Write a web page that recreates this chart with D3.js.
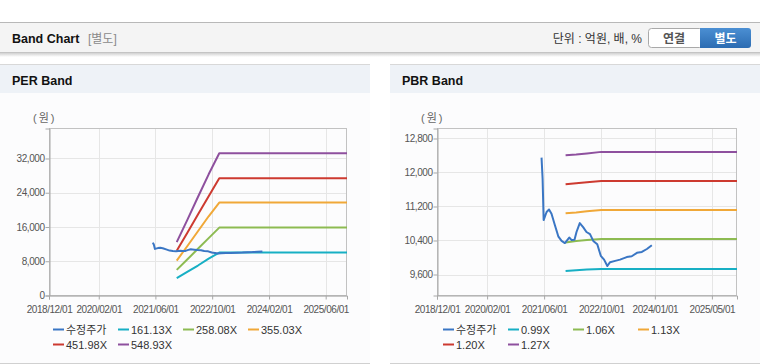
<!DOCTYPE html>
<html>
<head>
<meta charset="UTF-8">
<title>Band Chart</title>
<script src="https://d3js.org/d3.v7.min.js"></script>
<style type="text/css">
    body { margin: 0; background: #fff; }
    svg { display: block; font-family: "Liberation Sans", "Noto Sans CJK KR", sans-serif; }
</style>
</head>
<body>
<svg id="bands"></svg>
<script>
    // shared price series (수정주가)
    const priceDates = ["2021/05/10","2021/05/19","2021/05/28","2021/06/22","2021/07/13","2021/08/03",
        "2021/09/01","2021/10/01","2021/10/28","2021/11/25","2021/12/15","2022/01/01","2022/01/22",
        "2022/02/15","2022/03/04","2022/04/01","2022/05/01","2022/05/28","2022/06/27","2022/07/25",
        "2022/08/28","2022/09/27","2022/10/25","2022/11/22","2022/12/15","2023/01/28","2023/03/10",
        "2023/05/06","2023/06/18","2023/08/01","2023/09/12","2023/10/25","2023/12/06"];
    const priceValues = [12350,11860,10880,11070,11130,11030,10760,10490,10390,10340,10410,10470,10410,
        10420,10600,10810,10710,10600,10550,10390,10310,10040,9950,9800,9890,9920,9950,
        10010,10030,10110,10130,10200,10290];

    // PER band
    const perDates = ["2021/12/01","2022/03/01","2022/06/01","2022/09/01","2022/12/01","2025/12/01"];
    const per161 = [4060, 5500, 7000, 8600, 10030, 10030];
    const per258 = [5990, 8400, 10900, 13400, 15860, 15860];
    const per355 = [8160, 11500, 15000, 18500, 21690, 21690];
    const per452 = [10430, 14600, 18900, 23200, 27380, 27380];
    const per549 = [12460, 17600, 23000, 28300, 33210, 33210];
    const perLabels = ["수정주가", "161.13X", "258.08X", "355.03X", "451.98X", "548.93X"];
    const perYTicks = [0, 8000, 16000, 24000, 32000];
    const perXTicks = ["2018/12/01","2020/02/01","2021/06/01","2022/10/01","2024/02/01","2025/06/01"];

    // PBR band
    const pbrDates = ["2021/12/01","2022/03/01","2022/06/01","2022/10/01","2025/12/01"];
    const pbr099 = [9680, 9700, 9715, 9727, 9727];
    const pbr106 = [10355, 10390, 10410, 10435, 10435];
    const pbr113 = [11042, 11060, 11090, 11120, 11120];
    const pbr120 = [11725, 11748, 11772, 11802, 11802];
    const pbr127 = [12407, 12423, 12447, 12485, 12485];
    const pbrLabels = ["수정주가", "0.99X", "1.06X", "1.13X", "1.20X", "1.27X"];
    const pbrYTicks = [9600, 10400, 11200, 12000, 12800];
    const pbrXTicks = ["2018/12/01","2020/02/01","2021/06/01","2022/10/01","2024/01/01","2025/05/01"];

    const colors = ["#3a76c4", "#17afc4", "#8dbb52", "#f0a838", "#cd3a30", "#8e509e"];
    const parse = d3.timeParse("%Y/%m/%d");
    const xDomain = [parse("2018/12/01"), parse("2025/12/01")];

    const W = 760, H = 364;
    const svg = d3.select("#bands").attr("width", W).attr("height", H);

    // top header strip
    svg.append("rect").attr("x", 0).attr("y", 22).attr("width", W).attr("height", 31).attr("fill", "#f4f4f4");
    svg.append("line").attr("x1", 0).attr("x2", W).attr("y1", 22.5).attr("y2", 22.5).attr("stroke", "#b8b8b8");
    const shade = svg.append("defs").append("linearGradient").attr("id", "shade").attr("x1", 0).attr("x2", 0).attr("y1", 0).attr("y2", 1);
    shade.append("stop").attr("offset", 0).attr("stop-color", "#000").attr("stop-opacity", 0.18);
    shade.append("stop").attr("offset", 1).attr("stop-color", "#000").attr("stop-opacity", 0);
    svg.append("rect").attr("x", 0).attr("y", 53).attr("width", W).attr("height", 4).attr("fill", "url(#shade)");
    svg.append("line").attr("x1", 0).attr("x2", W).attr("y1", 52.5).attr("y2", 52.5).attr("stroke", "#c4c4c4");

    svg.append("text").attr("x", 12).attr("y", 43).attr("font-size", 12.5).attr("font-weight", "bold")
        .attr("fill", "#111").text("Band Chart");
    svg.append("text").attr("x", 88).attr("y", 43).attr("font-size", 12).attr("fill", "#8a8a8a").text("[별도]");
    svg.append("text").attr("x", 642).attr("y", 43).attr("font-size", 12).attr("fill", "#333")
        .attr("text-anchor", "end").text("단위 : 억원, 배, %");

    // toggle buttons
    const btnGrad = svg.select("defs").append("linearGradient").attr("id", "btnBlue")
        .attr("x1", 0).attr("x2", 0).attr("y1", 0).attr("y2", 1);
    btnGrad.append("stop").attr("offset", 0).attr("stop-color", "#4b8fd3");
    btnGrad.append("stop").attr("offset", 1).attr("stop-color", "#2c6cb2");
    svg.append("rect").attr("x", 648.5).attr("y", 28.5).attr("width", 54).attr("height", 19).attr("rx", 3)
        .attr("fill", "#fff").attr("stroke", "#a9a9a9");
    svg.append("rect").attr("x", 700).attr("y", 28).attr("width", 51).attr("height", 20).attr("rx", 3)
        .attr("fill", "url(#btnBlue)");
    svg.append("rect").attr("x", 700).attr("y", 28).attr("width", 4).attr("height", 20).attr("fill", "url(#btnBlue)");
    svg.append("text").attr("x", 674).attr("y", 42.5).attr("text-anchor", "middle").attr("font-size", 12)
        .attr("font-weight", "bold").attr("fill", "#555").text("연결");
    svg.append("text").attr("x", 725.5).attr("y", 42.5).attr("text-anchor", "middle").attr("font-size", 12)
        .attr("font-weight", "bold").attr("fill", "#fff").text("별도");

    function drawPanel(opts) {
        const g = svg.append("g");
        const px = opts.panelX, pw = opts.panelW;
        g.append("rect").attr("x", px).attr("y", 64).attr("width", pw).attr("height", 300).attr("fill", "#fcfcfd");
        g.append("rect").attr("x", px).attr("y", 64).attr("width", pw).attr("height", 29).attr("fill", "#eef2f7");
        g.append("line").attr("x1", px).attr("x2", px + pw).attr("y1", 64.5).attr("y2", 64.5).attr("stroke", "#d8d8d8");
        g.append("line").attr("x1", px).attr("x2", px + pw).attr("y1", 363.5).attr("y2", 363.5).attr("stroke", "#d0d0d0");
        g.append("text").attr("x", px + 12).attr("y", 85).attr("font-size", 12.5).attr("font-weight", "bold")
            .attr("fill", "#111").text(opts.title);
        g.append("text").attr("x", opts.left - 16).attr("y", 122).attr("font-size", 11).attr("fill", "#666")
            .attr("letter-spacing", "2px").text("(원)");

        const x = d3.scaleTime().domain(xDomain).range([opts.left, opts.right]);
        const y = d3.scaleLinear().domain(opts.yDomain).range([295.5, 128.5]);

        // grid
        const xt = opts.xTicks.map(parse);
        g.append("g").selectAll("line").data(xt).join("line")
            .attr("x1", d => Math.round(x(d)) + 0.5).attr("x2", d => Math.round(x(d)) + 0.5)
            .attr("y1", 128.5).attr("y2", 295.5).attr("stroke", "#e6e6e6");
        g.append("g").selectAll("line").data(opts.yTicks).join("line")
            .attr("x1", opts.left).attr("x2", opts.right)
            .attr("y1", d => Math.round(y(d)) + 0.5).attr("y2", d => Math.round(y(d)) + 0.5).attr("stroke", "#e6e6e6");
        g.append("rect").attr("x", opts.left + 0.5).attr("y", 128.5)
            .attr("width", opts.right - opts.left - 1).attr("height", 167)
            .attr("fill", "none").attr("stroke", "#c2c2c2");

        // axes
        const xAxis = g.append("g").attr("transform", "translate(0,295.5)")
            .call(d3.axisBottom(x).tickValues(xt).tickSize(4).tickFormat(d3.timeFormat("%Y/%m/%d")));
        const yAxis = g.append("g").attr("transform", `translate(${opts.left + 0.5},0)`)
            .call(d3.axisLeft(y).tickValues(opts.yTicks).tickSize(4).tickFormat(d3.format(",")));
        [xAxis, yAxis].forEach(a => {
            a.select(".domain").attr("stroke", "#a8a8a8");
            a.selectAll(".tick line").attr("stroke", "#a8a8a8");
            a.selectAll("text").attr("fill", "#555").attr("font-size", 10)
                .attr("font-family", "\"Liberation Sans\", sans-serif").attr("letter-spacing", "-0.45px");
        });
        xAxis.selectAll("text").attr("dy", "1.05em");
        yAxis.selectAll("text").attr("x", -5);

        // series
        const line = d3.line().x(d => x(d[0])).y(d => y(d[1]));
        const series = [d3.zip(priceDates.map(parse), priceValues)]
            .concat(opts.bands.map(b => d3.zip(opts.bandDates.map(parse), b)));
        const order = [1, 2, 3, 4, 5, 0];
        order.forEach(i => {
            g.append("path").datum(series[i]).attr("d", line)
                .attr("fill", "none").attr("stroke", colors[i]).attr("stroke-width", 2)
                .attr("stroke-linejoin", "round");
        });

        // legend
        const leg = g.append("g").selectAll("g").data(opts.labels).join("g")
            .attr("transform", (d, i) => `translate(${opts.legendX + (i % 4) * 65},${329 + Math.floor(i / 4) * 15})`);
        leg.append("line").attr("x1", 0).attr("x2", 11).attr("y1", 0.5).attr("y2", 0.5)
            .attr("stroke", (d, i) => colors[i]).attr("stroke-width", 2);
        leg.append("text").attr("x", 13).attr("y", 4.5).attr("font-size", 11).attr("fill", "#333").text(d => d);
    }

    drawPanel({
        panelX: 0, panelW: 370, title: "PER Band", left: 49, right: 347,
        yDomain: [0, 39000], yTicks: perYTicks, xTicks: perXTicks,
        bandDates: perDates, bands: [per161, per258, per355, per452, per549],
        labels: perLabels, legendX: 53
    });
    drawPanel({
        panelX: 390, panelW: 370, title: "PBR Band", left: 437, right: 737,
        yDomain: [9106, 13035], yTicks: pbrYTicks, xTicks: pbrXTicks,
        bandDates: pbrDates, bands: [pbr099, pbr106, pbr113, pbr120, pbr127],
        labels: pbrLabels, legendX: 443
    });
</script>
</body>
</html>
